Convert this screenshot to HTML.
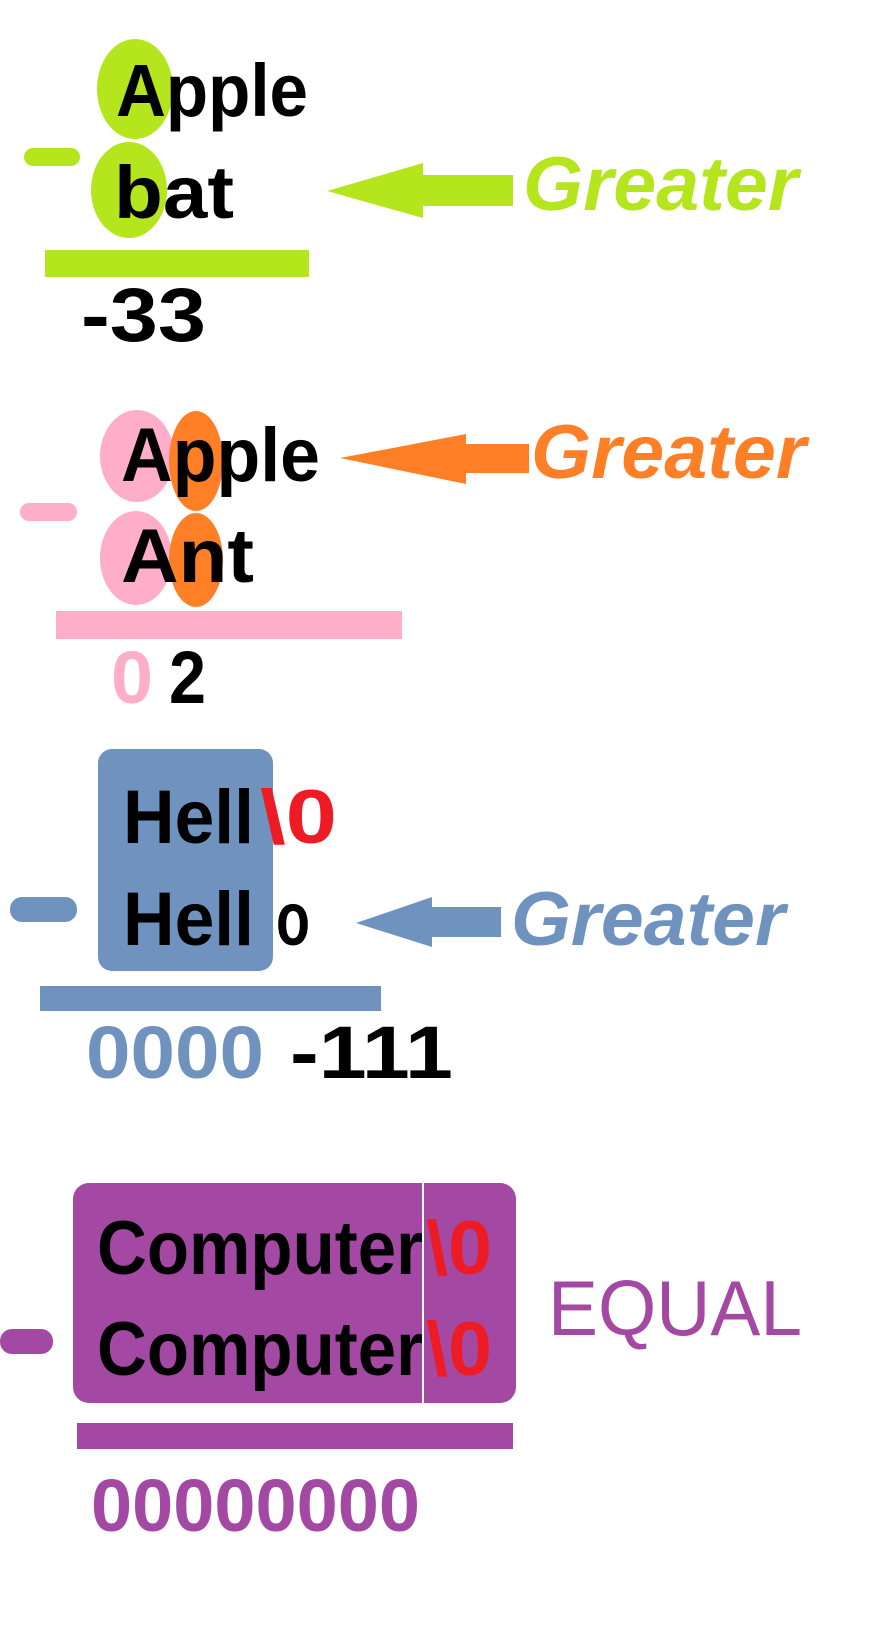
<!DOCTYPE html>
<html><head><meta charset="utf-8"><style>html,body{margin:0;padding:0;background:#fff}svg{display:block}</style></head>
<body>
<svg width="892" height="1636" viewBox="0 0 892 1636" xmlns="http://www.w3.org/2000/svg" font-family="Liberation Sans, sans-serif" font-weight="bold">
<rect width="892" height="1636" fill="#fff"/>
<!-- Section 1 -->
<ellipse cx="135" cy="89" rx="38" ry="50" fill="#b5e61d"/>
<ellipse cx="129" cy="190" rx="38" ry="48" fill="#b5e61d"/>
<rect x="24" y="148" width="56" height="18" rx="9" fill="#b5e61d"/>
<text x="116" y="116" font-size="74" textLength="192" lengthAdjust="spacingAndGlyphs" fill="#000">Apple</text>
<text x="114" y="218" font-size="74" textLength="120" lengthAdjust="spacingAndGlyphs" fill="#000">bat</text>
<polygon points="327,191 423,163 423,175 513,175 513,206 423,206 423,218" fill="#b5e61d"/>
<text x="523" y="210" font-size="76" font-style="italic" textLength="275" lengthAdjust="spacingAndGlyphs" fill="#b5e61d">Greater</text>
<rect x="45" y="250" width="264" height="27" fill="#b5e61d"/>
<text x="81" y="341" font-size="76" textLength="125" lengthAdjust="spacingAndGlyphs" fill="#000">-33</text>
<!-- Section 2 -->
<ellipse cx="137" cy="456" rx="37" ry="46" fill="#ffaec9"/>
<ellipse cx="136" cy="558" rx="36" ry="47" fill="#ffaec9"/>
<ellipse cx="196" cy="461" rx="27" ry="50" fill="#ff7f27"/>
<ellipse cx="196" cy="560" rx="27" ry="47" fill="#ff7f27"/>
<rect x="20" y="503" width="57" height="18" rx="9" fill="#ffaec9"/>
<text x="121" y="481" font-size="76" textLength="199" lengthAdjust="spacingAndGlyphs" fill="#000">Apple</text>
<text x="121" y="582" font-size="76" textLength="133" lengthAdjust="spacingAndGlyphs" fill="#000">Ant</text>
<polygon points="340,458 466,434 466,444 529,444 529,473 466,473 466,484" fill="#ff7f27"/>
<text x="531" y="478" font-size="76" font-style="italic" textLength="275" lengthAdjust="spacingAndGlyphs" fill="#ff7f27">Greater</text>
<rect x="56" y="611" width="346" height="28" fill="#ffaec9"/>
<text x="111" y="703" font-size="74" textLength="42" lengthAdjust="spacingAndGlyphs" fill="#ffaec9">0</text>
<text x="169" y="703" font-size="74" textLength="37" lengthAdjust="spacingAndGlyphs" fill="#000">2</text>
<!-- Section 3 -->
<rect x="98" y="749" width="175" height="222" rx="14" fill="#7092be"/>
<text x="123" y="843" font-size="76" textLength="131" lengthAdjust="spacingAndGlyphs" fill="#000">Hell</text>
<text x="260" y="843" font-size="76" textLength="77" lengthAdjust="spacingAndGlyphs" fill="#ed1c24">\0</text>
<text x="123" y="945" font-size="76" textLength="131" lengthAdjust="spacingAndGlyphs" fill="#000">Hell</text>
<text x="276" y="945" font-size="76" textLength="34" lengthAdjust="spacingAndGlyphs" fill="#000">o</text>
<rect x="10" y="897" width="67" height="25" rx="12" fill="#7092be"/>
<polygon points="356,923 432,897 432,907 501,907 501,937 432,937 432,947" fill="#7092be"/>
<text x="511" y="945" font-size="76" font-style="italic" textLength="274" lengthAdjust="spacingAndGlyphs" fill="#7092be">Greater</text>
<rect x="40" y="986" width="341" height="25" fill="#7092be"/>
<text x="86" y="1078" font-size="74" textLength="178" lengthAdjust="spacingAndGlyphs" fill="#7092be">0000</text>
<text x="290" y="1078" font-size="74" textLength="163" lengthAdjust="spacingAndGlyphs" fill="#000">-111</text>
<!-- Section 4 -->
<rect x="73" y="1183" width="443" height="220" rx="16" fill="#a349a4"/>
<rect x="422" y="1183" width="2" height="220" fill="#fff"/>
<text x="97" y="1274" font-size="76" textLength="326" lengthAdjust="spacingAndGlyphs" fill="#000">Computer</text>
<text x="426" y="1274" font-size="76" textLength="66" lengthAdjust="spacingAndGlyphs" fill="#ed1c24">\0</text>
<text x="97" y="1375" font-size="76" textLength="326" lengthAdjust="spacingAndGlyphs" fill="#000">Computer</text>
<text x="426" y="1375" font-size="76" textLength="66" lengthAdjust="spacingAndGlyphs" fill="#ed1c24">\0</text>
<rect x="0" y="1329" width="53" height="25" rx="12" fill="#a349a4"/>
<text x="548" y="1335" font-size="78" font-weight="normal" textLength="254" lengthAdjust="spacingAndGlyphs" fill="#a349a4">EQUAL</text>
<rect x="77" y="1423" width="436" height="26" fill="#a349a4"/>
<text x="91" y="1531" font-size="74" textLength="329" lengthAdjust="spacingAndGlyphs" fill="#a349a4">00000000</text>
</svg>
</body></html>
